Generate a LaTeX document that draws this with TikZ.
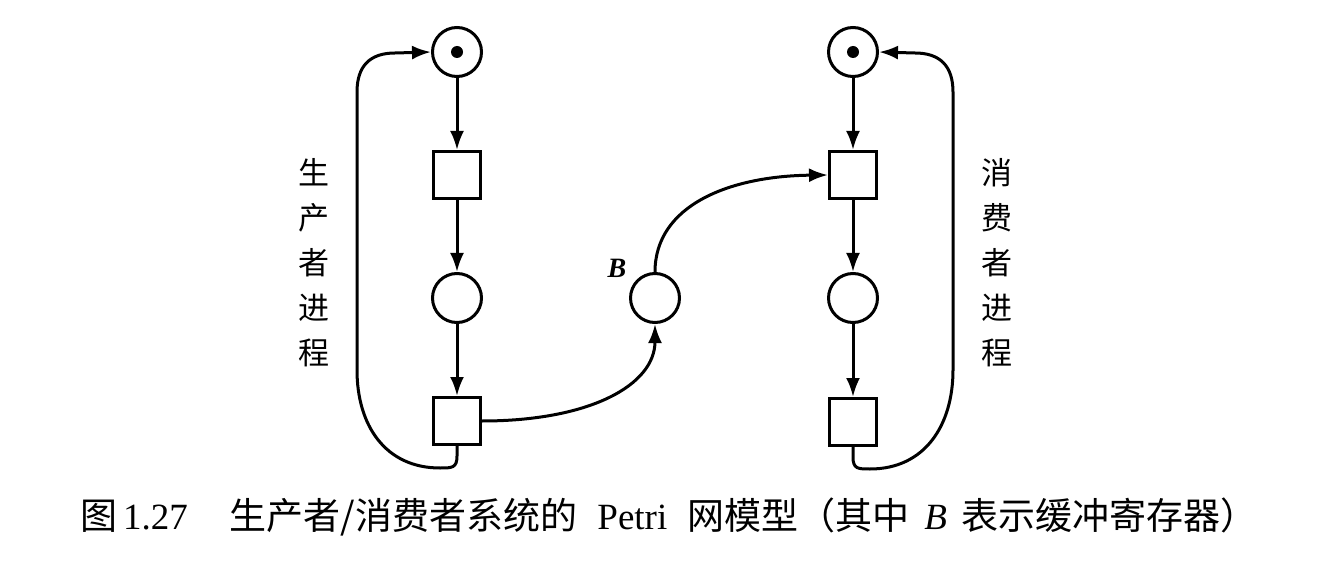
\documentclass[tikz,border=0pt]{standalone}
\usepackage{fontspec}
\setmainfont{Liberation Serif}
\newfontfamily\cjk{Noto Sans CJK SC}
\usetikzlibrary{arrows.meta}
\begin{document}
\begin{tikzpicture}[x=1pt,y=-1pt,
  place/.style={draw,circle,line width=3pt,minimum size=49pt,inner sep=0pt},
  trans/.style={draw,rectangle,line width=3pt,minimum size=47pt,inner sep=0pt},
  token/.style={fill,circle,minimum size=12pt,inner sep=0pt},
  flow/.style={line width=3pt,-{Latex[length=19pt,width=14pt]}},
  vlabel/.style={align=center,font=\cjk\fontsize{31}{45}\selectfont,inner sep=0pt},
  captext/.style={font=\fontsize{37}{40}\selectfont,inner sep=0pt,anchor=west}]
\useasboundingbox (0,0) rectangle (1317,569);
% left (producer)
\node[place] (lp1) at (457,52) {};
\node[token] (lk1) at (457,52) {};
\node[trans] (lt1) at (457,175) {};
\node[place] (lp2) at (457,298) {};
\node[trans] (lt2) at (457,421) {};
% right (consumer)
\node[place] (rp1) at (853,52) {};
\node[token] (rk1) at (853,52) {};
\node[trans] (rt1) at (853,175) {};
\node[place] (rp2) at (853,298) {};
\node[trans] (rt2) at (853,422) {};
% buffer
\node[place] (b) at (655,298) {};
\node[font=\fontsize{28}{30}\selectfont\bfseries\itshape] (bl) at (617,268) {B};
% arcs
\draw[flow] (lp1) -- (lt1);
\draw[flow] (lt1) -- (lp2);
\draw[flow] (lp2) -- (lt2);
\draw[flow] (rp1) -- (rt1);
\draw[flow] (rt1) -- (rp2);
\draw[flow] (rp2) -- (rt2);
\draw[flow] (lt2.east) .. controls (590,421) and (655,385) .. (b.south);
\draw[flow] (b.north) .. controls (655,205) and (730,176) .. (rt1.west);
\draw[flow] (lt2.south) -- (457,456) .. controls (457,468) and (452,468) .. (440,468)
  .. controls (385,468) and (357,425) .. (357,370) -- (357,92)
  .. controls (357,66) and (370,53) .. (395,53) -- (lp1.west);
\draw[flow] (rt2.south) -- (853,457) .. controls (853,469) and (858,469) .. (870,469)
  .. controls (925,469) and (953,425) .. (953,370) -- (953,92)
  .. controls (953,66) and (940,53) .. (915,53) -- (rp1.east);
% side labels
\node[vlabel] (lab1) at (314,263) {生\\产\\者\\进\\程};
\node[vlabel] (lab2) at (997,263) {消\\费\\者\\进\\程};
% caption
\node[captext] (caption) at (80,517) {{\cjk 图}\hspace{6pt}1.27\hspace{42pt}{\cjk 生产者/消费者系统的}\hspace{20pt}Petri\hspace{20pt}{\cjk 网模型（其中}\hspace{15pt}\textit{B}\hspace{15pt}{\cjk 表示缓冲寄存器）}};
\end{tikzpicture}
\end{document}
